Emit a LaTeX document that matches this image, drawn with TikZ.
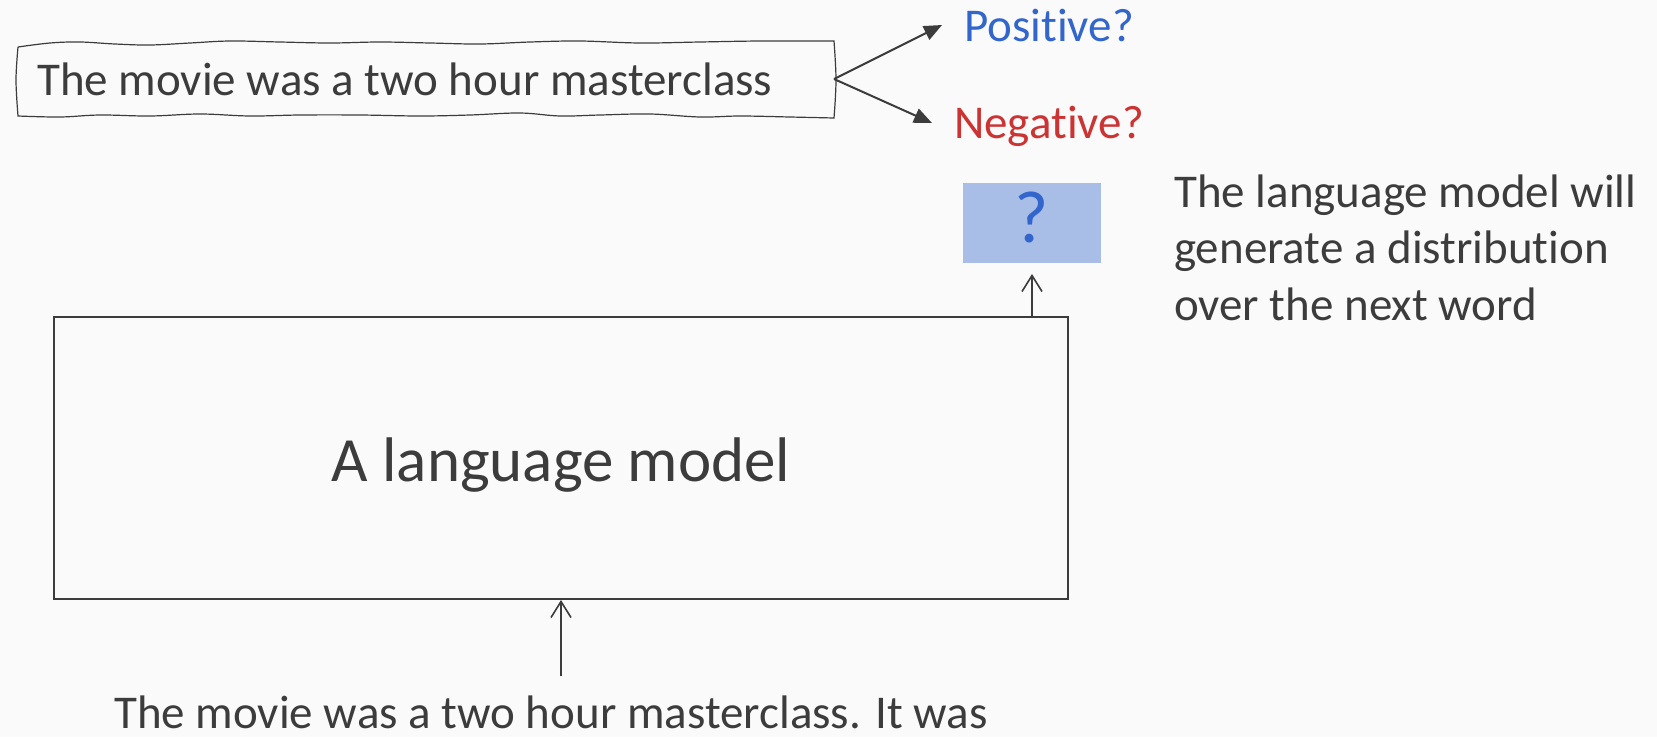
\documentclass[tikz,border=0pt]{standalone}
\usepackage{fontspec}
\setmainfont{Carlito}[Ligatures=NoCommon]
\usetikzlibrary{arrows.meta}
\definecolor{bg}{HTML}{FAFAFA}
\definecolor{ink}{HTML}{3C3C3C}
\definecolor{posblue}{HTML}{3366CC}
\definecolor{negred}{HTML}{CC3333}
\definecolor{qfill}{HTML}{A9BEE6}
\begin{document}
\begin{tikzpicture}[x=1pt,y=-1pt,
  txt/.style={inner sep=0pt,text=ink,font=\fontsize{47}{56.5}\selectfont},
  bigtxt/.style={inner sep=0pt,text=ink,font=\fontsize{63}{75}\selectfont},
  branch/.style={draw=ink,line width=2pt,-{Triangle[length=18pt,width=15pt]}},
  feed/.style={draw=ink,line width=1.6pt,-{Straight Barb[length=16pt,width=20pt]}},
  modelbox/.style={draw=ink,line width=2pt},
  handbox/.style={draw=ink,line width=1.2pt}
]
\fill[bg] (0,0) rectangle (1657,737);
\useasboundingbox (0,0) rectangle (1657,737);

% hand-drawn box round the review
\draw[handbox] plot[smooth,tension=0.6] coordinates {
  (18,47) (50,43) (80,42) (115,44) (150,45) (190,43) (230,41) (280,42) (330,43)
  (380,42) (430,43) (480,44) (530,42) (580,41) (640,43) (700,42) (760,41) (834,41)}
  -- plot[smooth,tension=0.6] coordinates {(834,41) (836,80) (834,118)}
  -- plot[smooth,tension=0.6] coordinates {
  (834,118) (790,117) (740,116) (700,117) (650,114) (600,115) (560,116) (520,113)
  (470,115) (420,116) (360,115) (300,115) (250,116) (200,114) (150,116) (100,115)
  (60,117) (18,116)}
  -- plot[smooth,tension=0.6] coordinates {(18,116) (16,80) (18,47)};

\node[txt,anchor=base west] (review) at (37,95) {The movie was a two hour masterclass};
\coordinate (fork) at (834,79);

\node[txt,anchor=base west,text=posblue] (pos) at (964,41) {Positive?};
\node[txt,anchor=base west,text=negred] (neg) at (954,138) {Negative?};
\coordinate (postip) at (942,25);
\coordinate (negtip) at (932,123);
\draw[branch] (fork) -- (postip);
\draw[branch] (fork) -- (negtip);

% output word box
\node[fill=qfill,minimum width=138pt,minimum height=80pt,inner sep=0pt] (q) at (1032,223) {};
\node[inner sep=0pt,text=posblue,font=\fontsize{74}{80}\selectfont,anchor=base] (qmark) at (1032,242) {?};

% language model
\node[modelbox,minimum width=1014pt,minimum height=282pt,inner sep=0pt] (lm) at (561,458) {};
\node[bigtxt,anchor=base] (lmtxt) at (561,481) {A language model};

\draw[feed] (lm.north -| q.south) -- (q.south |- 0,274);
\coordinate (inbot) at (561,676);
\draw[feed] (inbot) -- (lm.south);

\node[txt,anchor=base west] (prompt) at (114,728) {The movie was a two hour masterclass. It was};

\node[txt,anchor=base west,align=left] (expl) at (1174,320)
  {The language model will\\generate a distribution\\over the next word};
\end{tikzpicture}
\end{document}
